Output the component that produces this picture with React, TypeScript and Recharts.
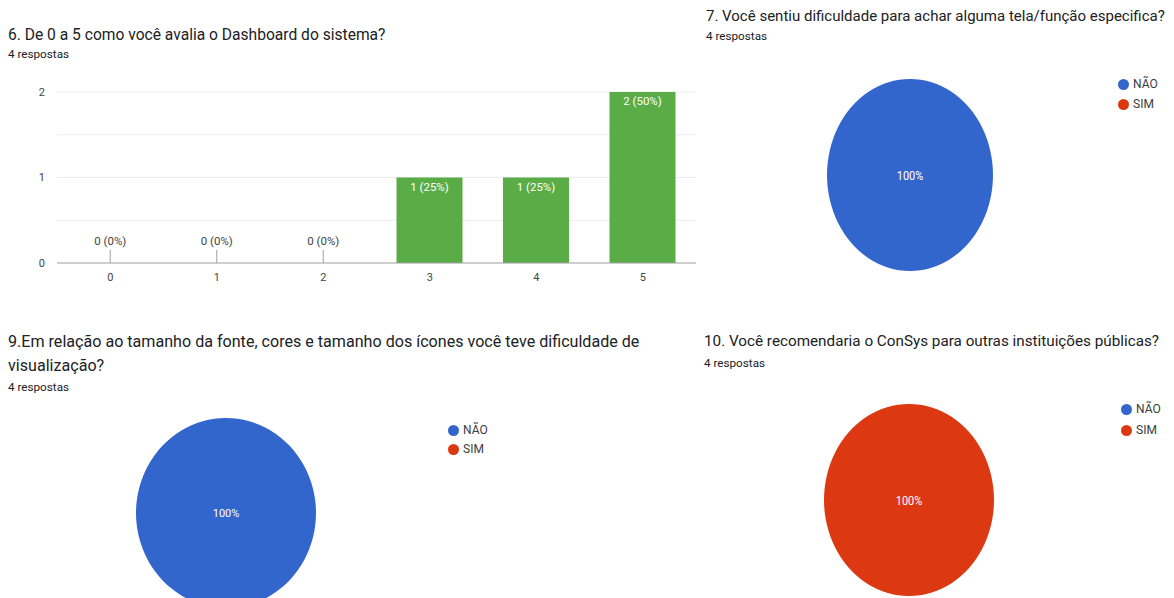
import React from 'react'
import {
  BarChart,
  Bar,
  XAxis,
  YAxis,
  CartesianGrid,
  ReferenceDot,
  LabelList,
  PieChart,
  Pie,
  Cell,
} from 'recharts'

// Q6 - nota do dashboard
const ratingCategories = ['0', '1', '2', '3', '4', '5']
const ratingCounts = [0, 0, 0, 1, 1, 2]
const ratingTicks = [0, 1, 2]
const ratingGridTicks = [0.5, 1, 1.5, 2]
const ratingMax = 2
const totalAnswers = 4

// pies
const pieLabels = ['NÃO', 'SIM']
const pieColors = ['#3366cc', '#dc3912']
const q7Values = [4, 0]
const q9Values = [4, 0]
const q10Values = [0, 4]

const FONT = 'Roboto, Arial, sans-serif'
const TITLE_COLOR = '#202124'

const barData = ratingCategories.map((c, i) => ({ nota: c, count: ratingCounts[i] }))

const pctText = (value: number) => `${value} (${Math.round((value / totalAnswers) * 100)}%)`

const BarValueLabel = (props: any) => {
  const { x, y, width, value } = props
  if (!value) return null
  return (
    <text x={x + width / 2} y={y + 13} textAnchor="middle" fontSize={11.5} fill="#fff" fontFamily={FONT}>
      {pctText(value)}
    </text>
  )
}

// label + little stem for bars with 0 answers
const zeroMarker = (value: number) => (props: any) => {
  const { cx, cy } = props
  return (
    <g>
      <line x1={cx} x2={cx} y1={cy - 13} y2={cy} stroke="#9e9e9e" />
      <text x={cx} y={cy - 18} textAnchor="middle" fontSize={11.5} fill="#444" fontFamily={FONT}>
        {pctText(value)}
      </text>
    </g>
  )
}

const Title = ({ x, y, size, children }: { x: number; y: number; size: number; children: React.ReactNode }) => (
  <div
    style={{
      position: 'absolute',
      left: x,
      top: y - 10,
      height: 20,
      lineHeight: '20px',
      fontSize: size,
      color: TITLE_COLOR,
      whiteSpace: 'nowrap',
      fontFamily: FONT,
    }}
  >
    {children}
  </div>
)

const PieLegend = ({ x, y, gap }: { x: number; y: number; gap: number }) => (
  <>
    {pieLabels.map((l, i) => (
      <div
        key={l}
        style={{
          position: 'absolute',
          left: x - 6,
          top: y + i * gap - 8,
          height: 16,
          display: 'flex',
          alignItems: 'center',
          fontFamily: FONT,
          fontSize: 12,
          color: '#3c3c3c',
        }}
      >
        <span
          style={{
            width: 11,
            height: 11,
            borderRadius: '50%',
            background: pieColors[i],
            display: 'inline-block',
            marginRight: 4,
          }}
        />
        {l}
      </div>
    ))}
  </>
)

const centerLabel = (props: any) => {
  const { cx, cy, percent } = props
  if (!percent) return null
  return (
    <text x={cx} y={cy} dy={4} textAnchor="middle" fontSize={11} fill="#fff" fontFamily={FONT}>
      {`${Math.round(percent * 100)}%`}
    </text>
  )
}

const EllipsePie = ({
  values,
  cx,
  cy,
  rx,
  ry,
}: {
  values: number[]
  cx: number
  cy: number
  rx: number
  ry: number
}) => {
  const data = pieLabels.map((l, i) => ({ name: l, value: values[i] }))
  const size = rx * 2 + 10
  return (
    <div
      style={{
        position: 'absolute',
        left: cx - size / 2,
        top: cy - size / 2,
        width: size,
        height: size,
        transform: `scale(1, ${ry / rx})`,
        transformOrigin: 'center center',
      }}
    >
      <PieChart width={size} height={size} margin={{ top: 0, right: 0, bottom: 0, left: 0 }}>
        <Pie
          data={data}
          dataKey="value"
          nameKey="name"
          cx="50%"
          cy="50%"
          outerRadius={rx}
          startAngle={90}
          endAngle={-270}
          stroke="none"
          label={centerLabel}
          labelLine={false}
          isAnimationActive={false}
        >
          {data.map((d, i) => (
            <Cell key={d.name} fill={pieColors[i]} />
          ))}
        </Pie>
      </PieChart>
    </div>
  )
}

export default function App() {
  return (
    <div
      style={{
        position: 'absolute',
        left: 0,
        top: 0,
        width: 1174,
        height: 598,
        overflow: 'hidden',
        background: '#fff',
        fontFamily: FONT,
      }}
    >
      {/* Q6 */}
      <Title x={8} y={35} size={15.6}>6. De 0 a 5 como você avalia o Dashboard do sistema?</Title>
      <Title x={8} y={54} size={11.7}>4 respostas</Title>
      <div style={{ position: 'absolute', left: 0, top: 80 }}>
        <BarChart
          width={710}
          height={213}
          data={barData}
          margin={{ top: 12, right: 14, left: 0, bottom: 0 }}
        >
          <CartesianGrid
            vertical={false}
            stroke="#ececec"
            horizontalCoordinatesGenerator={({ offset }: any) =>
              ratingGridTicks.map((v) => offset.top + offset.height * (1 - v / ratingMax))
            }
          />
          <XAxis
            dataKey="nota"
            height={30}
            tickLine={false}
            tickSize={0}
            tickMargin={10}
            axisLine={{ stroke: '#9e9e9e' }}
            tick={{ fill: '#444', fontSize: 11, fontFamily: FONT }}
          />
          <YAxis
            width={57}
            domain={[0, ratingMax]}
            ticks={ratingTicks}
            tickLine={false}
            tickSize={0}
            tickMargin={12}
            axisLine={false}
            tick={{ fill: '#444', fontSize: 11, fontFamily: FONT }}
          />
          <Bar dataKey="count" fill="#5aac46" barSize={66} isAnimationActive={false}>
            <LabelList dataKey="count" content={BarValueLabel} />
          </Bar>
          {barData
            .filter((d) => d.count === 0)
            .map((d) => (
              <ReferenceDot
                key={d.nota}
                x={d.nota}
                y={0}
                ifOverflow="visible"
                shape={zeroMarker(d.count)}
              />
            ))}
        </BarChart>
      </div>

      {/* Q7 */}
      <Title x={706} y={16} size={15}>7. Você sentiu dificuldade para achar alguma tela/função especifica?</Title>
      <Title x={706} y={36} size={11.7}>4 respostas</Title>
      <EllipsePie values={q7Values} cx={910} cy={175} rx={83} ry={96} />
      <PieLegend x={1124} y={84} gap={20} />

      {/* Q9 */}
      <Title x={8} y={342} size={16.1}>
        9.Em relação ao tamanho da fonte, cores e tamanho dos ícones você teve dificuldade de
      </Title>
      <Title x={8} y={366} size={16.1}>visualização?</Title>
      <Title x={8} y={387} size={11.7}>4 respostas</Title>
      <EllipsePie values={q9Values} cx={226} cy={513} rx={90} ry={95} />
      <PieLegend x={454} y={430} gap={19} />

      {/* Q10 */}
      <Title x={704} y={341} size={15.25}>10. Você recomendaria o ConSys para outras instituições públicas?</Title>
      <Title x={704} y={363} size={11.7}>4 respostas</Title>
      <EllipsePie values={q10Values} cx={909} cy={500} rx={85} ry={96} />
      <PieLegend x={1127} y={409} gap={21} />
    </div>
  )
}
